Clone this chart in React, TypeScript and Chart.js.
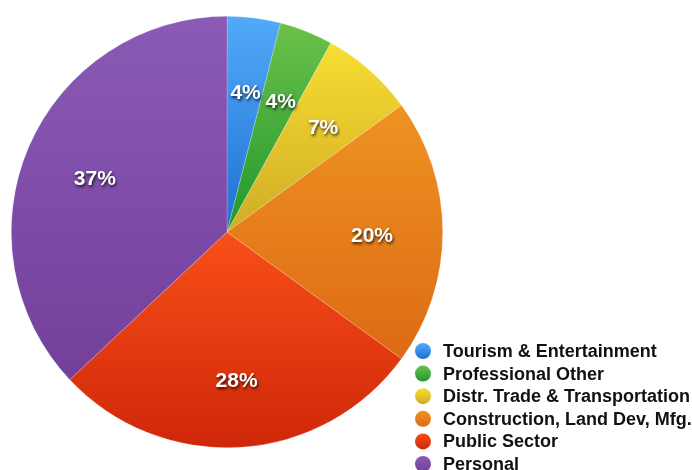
import React, { useEffect, useRef } from 'react';
import { Chart, registerables } from 'chart.js';

Chart.register(...registerables);

const categories = [
  'Tourism & Entertainment',
  'Professional Other',
  'Distr. Trade & Transportation',
  'Construction, Land Dev, Mfg.',
  'Public Sector',
  'Personal',
];
const shares = [4, 4, 7, 20, 28, 37];
const lightColors = ['#52aaf9', '#6cc04a', '#f8de32', '#ee9322', '#f94f18', '#8a5bb6'];
const darkColors = ['#1f70d4', '#1f982e', '#cfac26', '#dd6a14', '#cf270a', '#733f9b'];

const FONT = '"Liberation Sans", Arial, Helvetica, sans-serif';

function arcYRange(x: number, y: number, r: number, a0: number, a1: number) {
  const ys = [y, y + r * Math.sin(a0), y + r * Math.sin(a1)];
  for (let k = -2; k <= 2; k++) {
    const top = -Math.PI / 2 + 2 * Math.PI * k;
    const bot = Math.PI / 2 + 2 * Math.PI * k;
    if (top >= a0 && top <= a1) ys.push(y - r);
    if (bot >= a0 && bot <= a1) ys.push(y + r);
  }
  return [Math.min(...ys), Math.max(...ys)];
}

const gradientPlugin = {
  id: 'sliceGradient',
  beforeDatasetsDraw(chart: any) {
    const ctx = chart.ctx;
    const meta = chart.getDatasetMeta(0);
    meta.data.forEach((arc: any, i: number) => {
      const { x, y, startAngle, endAngle, outerRadius } = arc.getProps(['x', 'y', 'startAngle', 'endAngle', 'outerRadius'], true);
      const [y0, y1] = arcYRange(x, y, outerRadius, startAngle, endAngle);
      const g = ctx.createLinearGradient(0, y0, 0, y1);
      g.addColorStop(0, lightColors[i]);
      g.addColorStop(1, darkColors[i]);
      arc.options = Object.assign({}, arc.options, { backgroundColor: g });
    });
  },
};

const labelPlugin = {
  id: 'sliceLabels',
  afterDatasetsDraw(chart: any) {
    const ctx = chart.ctx;
    const meta = chart.getDatasetMeta(0);
    const total = shares.reduce((a, b) => a + b, 0);
    meta.data.forEach((arc: any, i: number) => {
      const { x, y, startAngle, endAngle, outerRadius } = arc.getProps(['x', 'y', 'startAngle', 'endAngle', 'outerRadius'], true);
      const mid = (startAngle + endAngle) / 2;
      const r = outerRadius * 0.67;
      const tx = x + r * Math.cos(mid);
      const ty = y + r * Math.sin(mid) + 4.5;
      ctx.save();
      ctx.font = `bold 21px ${FONT}`;
      ctx.textAlign = 'center';
      ctx.textBaseline = 'middle';
      ctx.shadowColor = 'rgba(0,0,0,0.75)';
      ctx.shadowBlur = 3;
      ctx.shadowOffsetX = 1;
      ctx.shadowOffsetY = 2;
      ctx.fillStyle = '#ffffff';
      ctx.fillText(`${Math.round((shares[i] / total) * 100)}%`, tx + 0.5, ty);
      ctx.restore();
    });
  },
};

const legendPlugin = {
  id: 'customLegend',
  afterDraw(chart: any) {
    const ctx = chart.ctx;
    const labels = chart.data.labels as string[];
    const x0 = 423;
    const y0 = 351;
    const step = 22.6;
    labels.forEach((label: string, i: number) => {
      const cy = y0 + i * step;
      ctx.save();
      const g = ctx.createLinearGradient(0, cy - 8, 0, cy + 8);
      g.addColorStop(0, lightColors[i]);
      g.addColorStop(1, darkColors[i]);
      ctx.beginPath();
      ctx.arc(x0, cy, 8, 0, Math.PI * 2);
      ctx.fillStyle = g;
      ctx.fill();
      ctx.fillStyle = '#111111';
      ctx.font = `bold 18px ${FONT}`;
      ctx.textAlign = 'left';
      ctx.textBaseline = 'middle';
      ctx.fillText(label, 443, cy + 1);
      ctx.restore();
    });
  },
};

export default function App() {
  const ref = useRef<HTMLCanvasElement>(null);
  useEffect(() => {
    if (!ref.current) return;
    const chart = new Chart(ref.current, {
      type: 'pie',
      data: {
        labels: categories,
        datasets: [
          {
            data: shares,
            backgroundColor: lightColors,
            borderColor: 'rgba(255,255,255,0.35)',
            borderWidth: 0.6,
            hoverOffset: 0,
          },
        ],
      },
      options: {
        responsive: false,
        animation: false,
        devicePixelRatio: 1,
        layout: { padding: { left: 11, right: 249, top: 16, bottom: 22 } },
        plugins: {
          legend: { display: false },
          tooltip: { enabled: false },
        },
      },
      plugins: [gradientPlugin, labelPlugin, legendPlugin],
    });
    return () => chart.destroy();
  }, []);
  return (
    <div style={{ position: 'absolute', left: 0, top: 0, width: 692, height: 470, background: '#ffffff' }}>
      <canvas ref={ref} width={692} height={470} />
    </div>
  );
}
